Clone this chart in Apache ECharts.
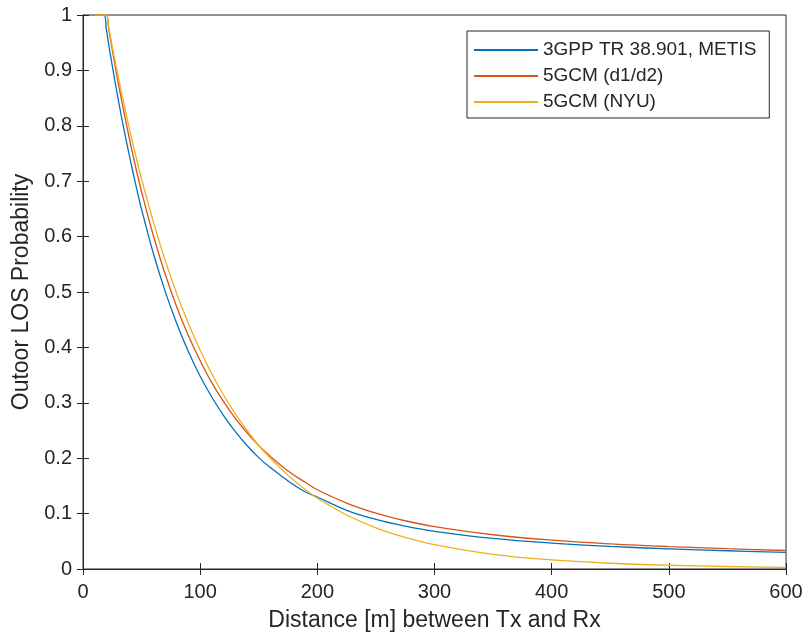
<!DOCTYPE html>
<html>
<head>
<meta charset="utf-8">
<script src="https://cdn.jsdelivr.net/npm/echarts@6/dist/echarts.min.js"></script>
<style>
html,body{margin:0;padding:0;background:#fff;}
#chart{width:806px;height:639px;}
</style>
</head>
<body>
<div id="chart"></div>
<script>
var distance = [10, 15, 18, 20, 22, 25, 30, 35, 40, 45, 50, 60, 70, 80, 90, 100, 110, 120, 130, 140, 150, 160, 175, 190, 200, 225, 250, 275, 300, 350, 400, 450, 500, 550, 600];
var los3gpp = [1, 1, 1, 0.973, 0.946, 0.908, 0.848, 0.793, 0.742, 0.694, 0.649, 0.570, 0.502, 0.443, 0.392, 0.348, 0.310, 0.277, 0.248, 0.223, 0.201, 0.183, 0.159, 0.139, 0.130, 0.106, 0.0895, 0.0774, 0.068, 0.0551, 0.0467, 0.0408, 0.0363, 0.0329, 0.0301];
var los5gcmD1D2 = [1, 1, 1, 1, 0.974, 0.937, 0.878, 0.824, 0.773, 0.725, 0.681, 0.602, 0.533, 0.473, 0.421, 0.376, 0.336, 0.302, 0.272, 0.246, 0.223, 0.203, 0.177, 0.156, 0.143, 0.119, 0.1008, 0.0871, 0.0766, 0.0618, 0.0522, 0.0455, 0.0405, 0.0366, 0.0334];
var los5gcmNYU = [1, 1, 1, 1, 0.977, 0.943, 0.889, 0.839, 0.791, 0.746, 0.704, 0.627, 0.558, 0.497, 0.443, 0.395, 0.352, 0.314, 0.280, 0.250, 0.223, 0.200, 0.169, 0.143, 0.128, 0.0975, 0.0744, 0.0571, 0.0440, 0.0265, 0.0164, 0.0104, 0.00675, 0.00454, 0.0031];
var seriesNames = ['3GPP TR 38.901, METIS', '5GCM (d1/d2)', '5GCM (NYU)'];
var seriesColors = ['#0072BD', '#D95319', '#EDB120'];
var xTicks = [0, 100, 200, 300, 400, 500, 600];
var yTicks = [0, 0.1, 0.2, 0.3, 0.4, 0.5, 0.6, 0.7, 0.8, 0.9, 1];

function pairs(ys){ return distance.map(function(d,i){ return [d, ys[i]]; }); }
var allY = [los3gpp, los5gcmD1D2, los5gcmNYU];

var chart = echarts.init(document.getElementById('chart'), null, {renderer:'canvas'});
var axisColor = '#262626';
var font = 'Liberation Sans, Arial, Helvetica, sans-serif';
var option = {
  backgroundColor: '#fff',
  animation: false,
  grid: {left: 83, right: 20, top: 15, bottom: 70, show: true, borderColor: axisColor, borderWidth: 1},
  legend: {
    data: seriesNames,
    orient: 'vertical',
    left: 467, top: 31,
    padding: [8, 13, 5, 7],
    borderColor: axisColor, borderWidth: 1,
    backgroundColor: '#fff',
    itemWidth: 64, itemHeight: 2, itemGap: 4, itemTextGap: 6,
    icon: 'rect',
    textStyle: {fontFamily: font, fontSize: 19, color: axisColor, lineHeight: 22}
  },
  xAxis: [{
    type: 'value', min: xTicks[0], max: xTicks[xTicks.length-1], interval: 100,
    name: 'Distance [m] between Tx and Rx', nameLocation: 'middle', nameGap: 40,
    nameTextStyle: {fontFamily: font, fontSize: 23, color: axisColor},
    axisLine: {show: true, lineStyle: {color: axisColor, width: 1}},
    axisTick: {show: true, inside: true, length: 6, lineStyle: {color: axisColor}},
    axisLabel: {fontFamily: font, fontSize: 20, color: axisColor, margin: 13},
    splitLine: {show: false}
  }, {
    type: 'value', position: 'top', min: 0, max: 600, interval: 100,
    axisLine: {show: true, lineStyle: {color: axisColor}},
    axisTick: {show: true, inside: true, length: 6, lineStyle: {color: axisColor}},
    axisLabel: {show: false}, splitLine: {show: false}
  }],
  yAxis: [{
    type: 'value', min: yTicks[0], max: yTicks[yTicks.length-1], interval: 0.1,
    name: 'Outoor LOS Probability', nameLocation: 'middle', nameGap: 49,
    nameTextStyle: {fontFamily: font, fontSize: 23, color: axisColor},
    axisLine: {show: true, lineStyle: {color: axisColor, width: 1}},
    axisTick: {show: true, inside: true, length: 6, lineStyle: {color: axisColor}},
    axisLabel: {fontFamily: font, fontSize: 20, color: axisColor, margin: 11,
      formatter: function(v){ return String(Math.round(v*10)/10); }},
    splitLine: {show: false}
  }, {
    type: 'value', position: 'right', min: 0, max: 1, interval: 0.1,
    axisLine: {show: true, lineStyle: {color: axisColor}},
    axisTick: {show: true, inside: true, length: 6, lineStyle: {color: axisColor}},
    axisLabel: {show: false}, splitLine: {show: false}
  }],
  series: seriesNames.map(function(n, i){
    return {
      name: n, type: 'line', data: pairs(allY[i]),
      xAxisIndex: 0, yAxisIndex: 0,
      showSymbol: false, symbol: 'none',
      smooth: 0.4,
      lineStyle: {color: seriesColors[i], width: 1.3},
      itemStyle: {color: seriesColors[i]}
    };
  })
};
chart.setOption(option);
</script>
</body>
</html>
